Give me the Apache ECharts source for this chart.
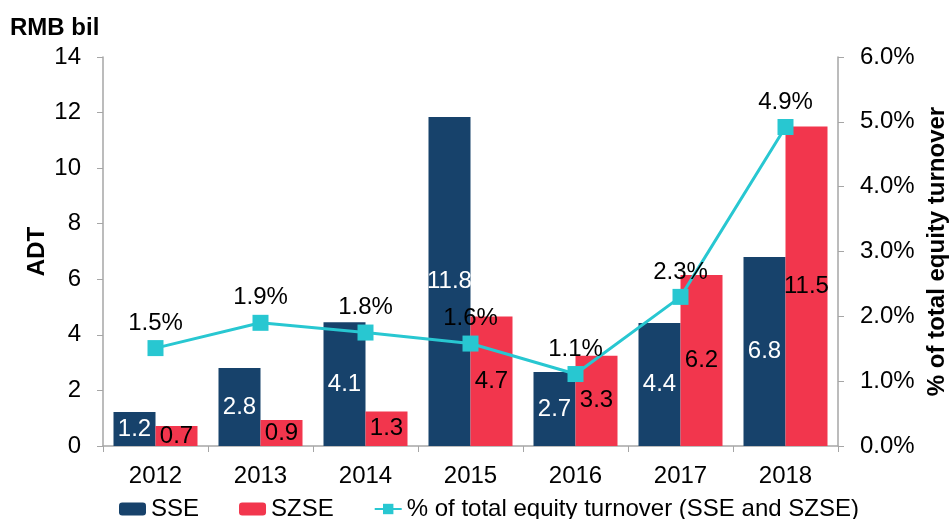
<!DOCTYPE html>
<html>
<head>
<meta charset="utf-8">
<script src="https://cdn.jsdelivr.net/npm/echarts@6/dist/echarts.min.js"></script>
<style>
  *{ margin:0; padding:0; }
  #chart{ width:950px; height:519px; background:#fff; }
</style>
</head>
<body>
<div id="chart"></div>
<script>
// 年份
var years = ['2012', '2013', '2014', '2015', '2016', '2017', '2018'];
// SSE / SZSE 日均成交 (RMB bil)，柱高从图上读
var sseValues = [1.22, 2.81, 4.45, 11.84, 2.66, 4.43, 6.8];
var sseLabels = ['1.2', '2.8', '4.1', '11.8', '2.7', '4.4', '6.8'];
var szseValues = [0.72, 0.94, 1.24, 4.66, 3.25, 6.15, 11.5];
var szseLabels = ['0.7', '0.9', '1.3', '4.7', '3.3', '6.2', '11.5'];
// 占总股票成交比例 (%)
var shareValues = [1.51, 1.9, 1.75, 1.58, 1.11, 2.3, 4.92];

var font = 'Liberation Sans, Arial, sans-serif';
var fs = 24;
var axisGray = '#a6a6a6';

var chart = echarts.init(document.getElementById('chart'));
chart.setOption({
  animation: false,
  textStyle: { fontFamily: font },
  title: {
    text: 'RMB bil',
    left: 8,
    top: 11,
    padding: [5, 2],
    textStyle: { fontFamily: font, fontSize: fs, fontWeight: 'bold', color: '#000' }
  },
  grid: { left: 103, right: 112, top: 57, bottom: 73, outerBoundsMode: 'none', containLabel: false },
  legend: {
    left: 114,
    top: 492,
    itemWidth: 27,
    itemHeight: 13,
    itemGap: 40,
    textStyle: { fontFamily: font, fontSize: fs, color: '#000' },
    data: ['SSE', 'SZSE', '% of total equity turnover (SSE and SZSE)']
  },
  xAxis: {
    type: 'category',
    data: years,
    axisLine: { lineStyle: { color: axisGray, width: 1.5 } },
    axisTick: { show: true, length: 6, lineStyle: { color: axisGray } },
    axisLabel: { color: '#000', fontSize: fs, margin: 18 }
  },
  yAxis: [
    {
      type: 'value',
      min: 0, max: 14, interval: 2,
      name: 'ADT',
      nameLocation: 'middle',
      nameGap: 54,
      nameRotate: 90,
      nameMoveOverlap: false,
      nameTextStyle: { fontFamily: font, fontSize: fs, fontWeight: 'bold', color: '#000' },
      axisLine: { show: true, lineStyle: { color: axisGray, width: 1.5 } },
      axisTick: { show: true, length: 6, lineStyle: { color: axisGray } },
      axisLabel: { color: '#000', fontSize: fs, margin: 22 },
      splitLine: { show: false }
    },
    {
      type: 'value',
      min: 0, max: 6, interval: 1,
      position: 'right',
      name: '% of total equity turnover',
      nameLocation: 'middle',
      nameGap: 87,
      nameRotate: 90,
      nameMoveOverlap: false,
      nameTextStyle: { fontFamily: font, fontSize: fs, fontWeight: 'bold', color: '#000' },
      axisLine: { show: true, lineStyle: { color: axisGray, width: 1.5 } },
      axisTick: { show: true, length: 6, lineStyle: { color: axisGray } },
      axisLabel: {
        color: '#000', fontSize: fs, margin: 22,
        formatter: function (v) { return v.toFixed(1) + '%'; }
      },
      splitLine: { show: false }
    }
  ],
  series: [
    {
      name: 'SSE',
      type: 'bar',
      data: sseValues,
      barGap: 0,
      barCategoryGap: '20%',
      itemStyle: { color: '#17426B' },
      label: {
        show: true, position: 'inside', color: '#fff', fontSize: fs,
        formatter: function (p) { return sseLabels[p.dataIndex]; }
      }
    },
    {
      name: 'SZSE',
      type: 'bar',
      data: szseValues,
      barGap: 0,
      barCategoryGap: '20%',
      itemStyle: { color: '#F2364D' },
      label: {
        show: true, position: 'inside', color: '#000', fontSize: fs,
        formatter: function (p) { return szseLabels[p.dataIndex]; }
      }
    },
    {
      name: '% of total equity turnover (SSE and SZSE)',
      type: 'line',
      yAxisIndex: 1,
      data: shareValues,
      symbol: 'rect',
      symbolSize: 16,
      z: 5,
      lineStyle: { color: '#28C7D1', width: 3 },
      itemStyle: { color: '#28C7D1' },
      label: {
        show: true, position: 'top', distance: 5, color: '#000', fontSize: fs,
        formatter: function (p) { return p.value.toFixed(1) + '%'; }
      }
    }
  ]
});
</script>
</body>
</html>
